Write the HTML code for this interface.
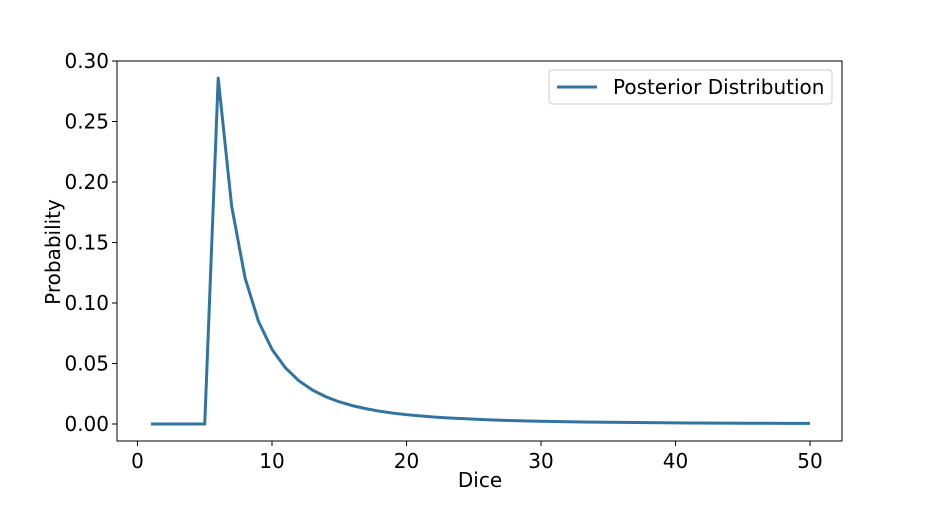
<!DOCTYPE html>
<html><head><meta charset="utf-8"><style>
body{margin:0;background:#fff}
svg text{font-family:"DejaVu Sans","Liberation Sans",sans-serif;fill:#000}
</style></head><body>
<svg id="chart" width="936" height="504">
<rect x="117" y="61" width="725" height="380" fill="none" stroke="#000" stroke-width="1"/>
<g id="xt"></g><g id="yt"></g>
<polyline id="line" fill="none" stroke="#3274a1" stroke-width="3" stroke-linejoin="round"/>
<text x="480" y="487" font-size="20" text-anchor="middle">Dice</text>
<text transform="translate(60,252) rotate(-90)" font-size="20" text-anchor="middle">Probability</text>
<g>
<rect x="549" y="70" width="283" height="34" rx="3" fill="#fff" stroke="#ccc"/>
<line x1="557" y1="87" x2="597" y2="87" stroke="#3274a1" stroke-width="3"/>
<text x="613" y="94" font-size="20">Posterior Distribution</text>
</g>
</svg>
<script>
const dice=[1,2,3,4,5,6,7,8,9,10,11,12,13,14,15,16,17,18,19,20,21,22,23,24,25,26,27,28,29,30,31,32,33,34,35,36,37,38,39,40,41,42,43,44,45,46,47,48,49,50];
const probs=[0,0,0,0,0,0.2858,0.1800,0.1206,0.0847,0.0617,0.0464,0.0357,0.0281,0.0225,0.0183,0.0151,0.0126,0.0106,0.0090,0.0077,0.0067,0.0058,0.0051,0.0045,0.0040,0.0035,0.0031,0.0028,0.0025,0.0023,0.0021,0.0019,0.0017,0.0016,0.0014,0.0013,0.0012,0.0011,0.0010,0.00093,0.00086,0.00080,0.00075,0.00070,0.00065,0.00061,0.00057,0.00054,0.00051,0.00048];
const xTicks=[0,10,20,30,40,50];
const yTicks=[0,0.05,0.10,0.15,0.20,0.25,0.30];
const yLabels=["0.00","0.05","0.10","0.15","0.20","0.25","0.30"];
const X=v=>137.5+v*13.45, Y=v=>424-v*1210;
const ns="http://www.w3.org/2000/svg";
function mk(t,a,p){const e=document.createElementNS(ns,t);for(const k in a)e.setAttribute(k,a[k]);p.appendChild(e);return e;}
const xt=document.getElementById('xt'),yt=document.getElementById('yt');
xTicks.forEach(v=>{
 const l=mk('line',{x1:X(v),x2:X(v),y1:441,y2:446,stroke:'#000'},xt);
 
 
 const t=mk('text',{x:X(v),y:468,'font-size':20,'text-anchor':'middle'},xt);t.textContent=v;
 
 
});
yTicks.forEach((v,i)=>{
 const l=mk('line',{x1:112,x2:117,y1:Y(v),y2:Y(v),stroke:'#000'},yt);
 
 
 const t=mk('text',{x:109,y:Y(v)+7,'font-size':20,'text-anchor':'end'},yt);t.textContent=yLabels[i];
 
 
});
document.getElementById('line').setAttribute('points',dice.map((d,i)=>X(d)+','+Y(probs[i])).join(' '));
</script>
</body></html>
